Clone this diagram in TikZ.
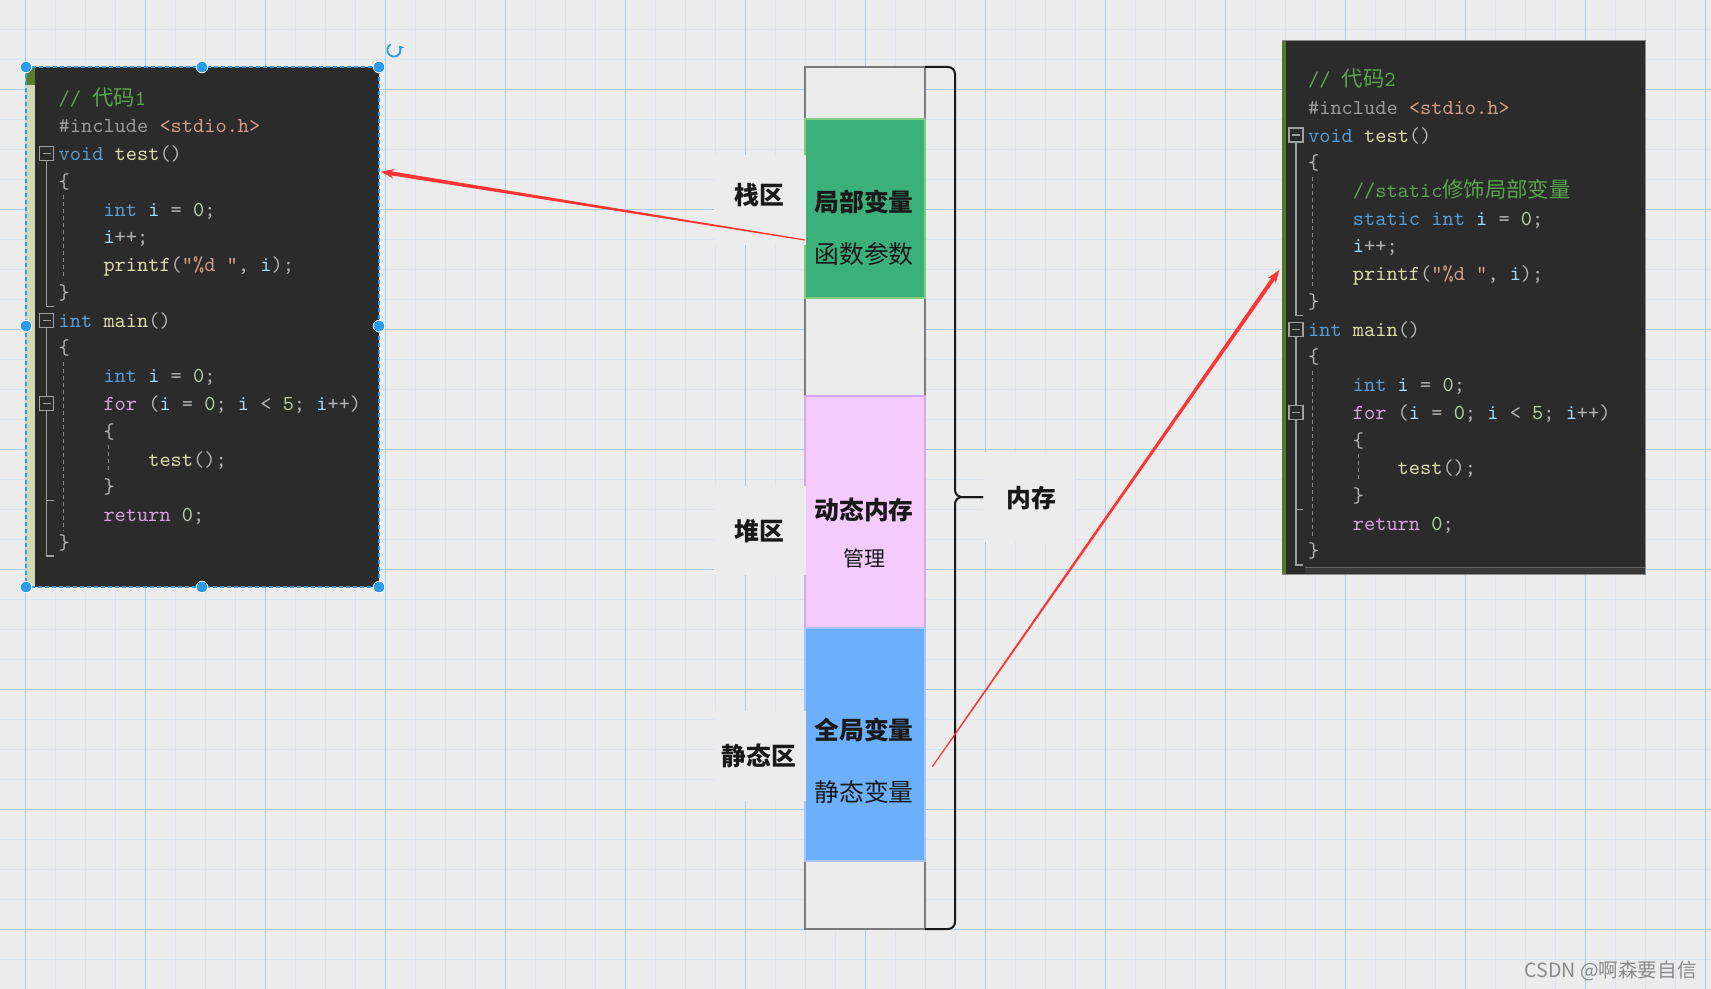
\documentclass[tikz,border=0pt]{standalone}
\usepackage{fontspec}
\newfontfamily\cjk{Noto Sans CJK SC}
\usetikzlibrary{calc,fit,arrows.meta}
\definecolor{bgc}{HTML}{ECECEC}
\definecolor{gridminor}{HTML}{DCE4EF}
\definecolor{gridmajor}{HTML}{A6CCF2}
\definecolor{codebg}{HTML}{2B2B2B}
\definecolor{zKc}{HTML}{569CD6}
\definecolor{zFc}{HTML}{DCDCAA}
\definecolor{zVc}{HTML}{9CDCFE}
\definecolor{zNc}{HTML}{B5CEA8}
\definecolor{zCc}{HTML}{D8A0DF}
\definecolor{zSc}{HTML}{D69D85}
\definecolor{zMc}{HTML}{57A64A}
\definecolor{zPc}{HTML}{9B9B9B}
\definecolor{zUc}{HTML}{B4B4B4}
\definecolor{foldc}{HTML}{A0A0A0}
\definecolor{guidec}{HTML}{8A8A8A}
\definecolor{stripbeige}{HTML}{D3D8B6}
\definecolor{stripgreen}{HTML}{5B7A2A}
\definecolor{olive}{HTML}{4E7A2C}
\definecolor{selblue}{HTML}{2B9BEB}
\definecolor{colgray}{HTML}{7A7A7A}
\definecolor{stackfill}{HTML}{3CB07A}
\definecolor{stackbd}{HTML}{80CC80}
\definecolor{heapfill}{HTML}{F5CAFC}
\definecolor{heapbd}{HTML}{D4A8F5}
\definecolor{statfill}{HTML}{6CB0FC}
\definecolor{statbd}{HTML}{A9C5FB}
\definecolor{arrowred}{HTML}{FF3535}
\definecolor{wm}{HTML}{8A8A8A}
\newcommand\zK[1]{\textcolor{zKc}{#1}}
\newcommand\zF[1]{\textcolor{zFc}{#1}}
\newcommand\zV[1]{\textcolor{zVc}{#1}}
\newcommand\zN[1]{\textcolor{zNc}{#1}}
\newcommand\zC[1]{\textcolor{zCc}{#1}}
\newcommand\zS[1]{\textcolor{zSc}{#1}}
\newcommand\zM[1]{\textcolor{zMc}{#1}}
\newcommand\zP[1]{\textcolor{zPc}{#1}}
\newcommand\foldmark[2]{%
  \draw[foldc, line width=0.6pt, fill=codebg] (#1-7,#2-7) rectangle (#1+7,#2+7);
  \draw[foldc, line width=0.6pt] (#1-4,#2) -- (#1+4,#2);}
\newcommand\foldline[3]{%
  \draw[foldc, line width=0.6pt] (#1,#2) -- (#1,#3) -- (#1+7,#3);}
\newcommand\guide[3]{%
  \draw[guidec, line width=0.55pt, dash pattern=on 2pt off 1.5pt] (#1,#2) -- (#1,#3);}
\newcommand\taparrow[2]{%
  \path ($(#2)!4.5pt!(#1)$) coordinate (tn) ($(#2)!6.5pt!(#1)$) coordinate (th);
  \fill[arrowred] ($(#1)!0.3pt!90:(#2)$) -- ($(tn)!1pt!90:(#2)$) -- ($(tn)!1pt!-90:(#2)$) -- ($(#1)!0.3pt!-90:(#2)$) -- cycle;
  \fill[arrowred] (#2) -- ($(th)!2.4pt!90:(#2)$) -- (tn) -- ($(th)!2.4pt!-90:(#2)$) -- cycle;}
\begin{document}
\begin{tikzpicture}[x=0.5pt,y=-0.5pt,
  ctxt/.style={anchor=base west, inner sep=0pt, text=zUc, font=\ttfamily\fontsize{10.67}{12}\selectfont},
  zone/.style={inner sep=0pt, text=black!90, font=\cjk\bfseries\fontsize{12.4}{14}\selectfont},
  blk/.style={inner sep=0pt, font=\cjk\fontsize{12.4}{14}\selectfont, text=black!90},
  box/.style={inner sep=0pt, outer sep=0pt},
  handle/.style={fill=selblue, draw=white, line width=0.4pt},
  bracestyle/.style={draw=black!90, line width=1pt, rounded corners=3.5pt}]
\useasboundingbox (0,0) rectangle (1711,989);
\fill[bgc] (0,0) rectangle (1711,989);
% grid
\foreach \gx in {-4.7,25.3,...,1720} \draw[gridminor, line width=0.75pt] (\gx,0) -- (\gx,989);
\foreach \gy in {-0.7,29.3,...,1000} \draw[gridminor, line width=0.75pt] (0,\gy) -- (1711,\gy);
\foreach \gx in {25.3,145.3,...,1720} \draw[gridmajor, line width=0.55pt] (\gx,0) -- (\gx,989);
\foreach \gy in {89.3,209.3,...,1000} \draw[gridmajor, line width=0.55pt] (0,\gy) -- (1711,\gy);

% memory column
\node[box, fit={(805,67) (925,929)}, fill=bgc, draw=colgray, line width=0.6pt] (col) {};
\node[box, fit={(805,119) (925,298)}, fill=stackfill, draw=stackbd, line width=1pt] (stack) {};
\node[box, fit={(805,396) (925,628)}, fill=heapfill, draw=heapbd, line width=1pt] (heap) {};
\node[box, fit={(805,628) (925,861)}, fill=statfill, draw=statbd, line width=1pt] (stat) {};
\node[blk, font=\cjk\bfseries\fontsize{12.4}{14}\selectfont] (t1) at (864,202) {局部变量};
\node[blk] (t2) at (864,254) {函数参数};
\node[blk, font=\cjk\bfseries\fontsize{12.4}{14}\selectfont] (t3) at (864,510) {动态内存};
\node[blk, font=\cjk\fontsize{10.5}{12}\selectfont] (t4) at (864,558) {管理};
\node[blk, font=\cjk\bfseries\fontsize{12.4}{14}\selectfont] (t5) at (864,730) {全局变量};
\node[blk] (t6) at (864,792) {静态变量};

% zone labels
\node[box, fit={(714,155) (806,245)}, fill=bgc] (zb1) {};
\node[zone] (z1) at (759,195) {栈区};
\node[box, fit={(714,486) (806,575)}, fill=bgc] (zb2) {};
\node[zone] (z2) at (759,531) {堆区};
\node[box, fit={(714,711) (806,801)}, fill=bgc] (zb3) {};
\node[zone] (z3) at (759,756) {静态区};
\node[box, fit={(983,452) (1075,542)}, fill=bgc] (mb) {};
\node[zone] (mem) at (1031,498) {内存};

% brace
\draw[bracestyle] (col.north east) -- (955,67) -- (955,497) -- (mb.west);
\draw[bracestyle] (col.south east) -- (955,929) -- (955,497) -- (mb.west);

% left code box
\node[box, fit={(35,67) (379,587)}, fill=codebg] (codeL) {};
\fill[stripbeige] (26,67) rectangle (35,587);
\fill[stripgreen] (26,67) rectangle (35,85);
\foldline{46.7}{160.7}{306.5}
\foldline{46.7}{327}{556}
\foldline{46.7}{410.5}{500.7}
\foldmark{46.7}{153.7}
\foldmark{46.7}{320.2}
\foldmark{46.7}{403.5}
\guide{63.3}{195.3}{278.6}
\guide{63.3}{361.8}{530}
\guide{108.3}{445}{473}
\node[ctxt] (l0) at (58.3,105.2) {\zM{// {\cjk 代码}1}};
\node[ctxt] (l1) at (58.3,133) {\zP{\#include} \zS{<stdio.h>}};
\node[ctxt] (l2) at (58.3,160.7) {\zK{void} \zF{test}()};
\node[ctxt] (l3) at (58.3,188.5) {\{};
\node[ctxt] (l4) at (103.1,216.2) {\zK{int} \zV{i} = \zN{0};};
\node[ctxt] (l5) at (103.1,244) {\zV{i}++;};
\node[ctxt] (l6) at (103.1,271.7) {\zF{printf}(\zS{"\%d "}, \zV{i});};
\node[ctxt] (l7) at (58.3,299.5) {\}};
\node[ctxt] (l8) at (58.3,327.2) {\zK{int} \zF{main}()};
\node[ctxt] (l9) at (58.3,355) {\{};
\node[ctxt] (l10) at (103.1,382.7) {\zK{int} \zV{i} = \zN{0};};
\node[ctxt] (l11) at (103.1,410.5) {\zC{for} (\zV{i} = \zN{0}; \zV{i} < \zN{5}; \zV{i}++)};
\node[ctxt] (l12) at (103.1,438.2) {\{};
\node[ctxt] (l13) at (147.9,466) {\zF{test}();};
\node[ctxt] (l14) at (103.1,493.7) {\}};
\node[ctxt] (l15) at (103.1,521.5) {\zC{return} \zN{0};};
\node[ctxt] (l16) at (58.3,549.2) {\}};
% selection frame
\draw[selblue, line width=0.6pt, dash pattern=on 2pt off 1.5pt] (26,67) rectangle (379,587);
\foreach \hx/\hy in {26/67,202/67,379/67,26/326,379/326,26/587,202/587,379/587}
  \filldraw[handle] (\hx,\hy) circle[radius=2.9pt];
\coordinate (rot) at (394,50);
\draw[selblue, line width=0.9pt, -{Stealth[length=2.4pt,width=3.2pt]}] ($(rot)+(120:3.3pt)$) arc[start angle=120, end angle=400, radius=3.3pt];

% right code box
\node[box, fit={(1282,41) (1645,574)}, fill=codebg, draw=black!45, line width=0.5pt] (codeR) {};
\fill[olive] (1282,41) rectangle (1285.5,574);
\fill[black!78] (1305,567) rectangle (1645,574);
\draw[black!60, line width=0.5pt] (1305,567) -- (1645,567);
\foldline{1296}{142}{315.5}
\foldline{1296}{336}{565}
\foldline{1296}{419}{509.5}
\foldmark{1296}{135.1}
\foldmark{1296}{329.2}
\foldmark{1296}{412.3}
\guide{1312.7}{176.6}{287.6}
\guide{1312.7}{370.6}{537}
\guide{1358.3}{453.8}{481.8}
\node[ctxt] (r0) at (1307.7,86.7) {\zM{// {\cjk 代码}2}};
\node[ctxt] (r1) at (1307.7,114.4) {\zP{\#include} \zS{<stdio.h>}};
\node[ctxt] (r2) at (1307.7,142.1) {\zK{void} \zF{test}()};
\node[ctxt] (r3) at (1307.7,169.9) {\{};
\node[ctxt] (r4) at (1352.5,197.6) {\zM{//static{\cjk 修饰局部变量}}};
\node[ctxt] (r5) at (1352.5,225.3) {\zK{static} \zK{int} \zV{i} = \zN{0};};
\node[ctxt] (r6) at (1352.5,253) {\zV{i}++;};
\node[ctxt] (r7) at (1352.5,280.7) {\zF{printf}(\zS{"\%d "}, \zV{i});};
\node[ctxt] (r8) at (1307.7,308.5) {\}};
\node[ctxt] (r9) at (1307.7,336.2) {\zK{int} \zF{main}()};
\node[ctxt] (r10) at (1307.7,363.9) {\{};
\node[ctxt] (r11) at (1352.5,391.6) {\zK{int} \zV{i} = \zN{0};};
\node[ctxt] (r12) at (1352.5,419.3) {\zC{for} (\zV{i} = \zN{0}; \zV{i} < \zN{5}; \zV{i}++)};
\node[ctxt] (r13) at (1352.5,447.1) {\{};
\node[ctxt] (r14) at (1397.3,474.8) {\zF{test}();};
\node[ctxt] (r15) at (1352.5,502.5) {\}};
\node[ctxt] (r16) at (1352.5,530.2) {\zC{return} \zN{0};};
\node[ctxt] (r17) at (1307.7,557.9) {\}};

% arrows
\coordinate (a1from) at (805,240);
\coordinate (a1to) at (381,171.7);
\coordinate (a2from) at (932.3,766.7);
\coordinate (a2to) at (1279.3,270);
\taparrow{a1from}{a1to}
\taparrow{a2from}{a2to}

% watermark
\node[anchor=east, inner sep=0pt, text=wm, font=\cjk\fontsize{9.8}{11}\selectfont] (wmk) at (1697,970.5) {CSDN @啊森要自信};
\end{tikzpicture}
\end{document}
